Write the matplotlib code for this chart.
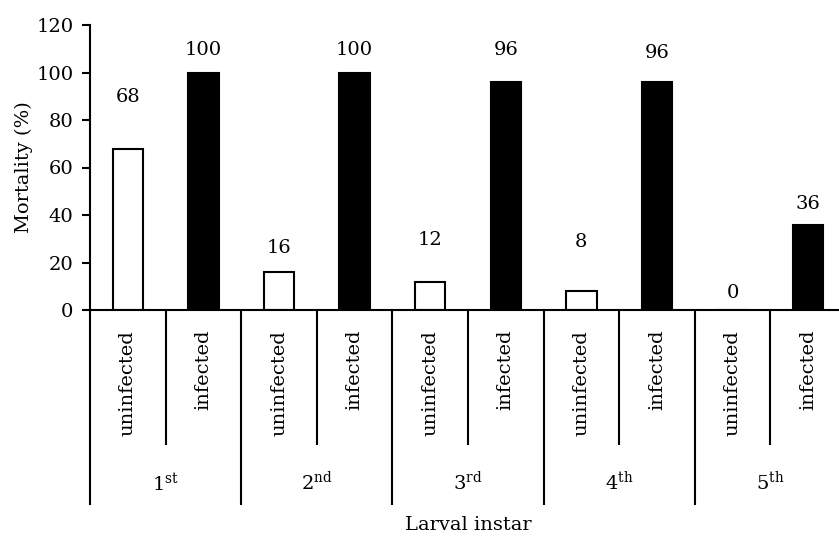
import numpy as np
import matplotlib
matplotlib.use("Agg")
import matplotlib.pyplot as plt
from matplotlib.transforms import blended_transform_factory

plt.rcParams['font.family'] = ['DejaVu Serif']
plt.rcParams['mathtext.fontset'] = 'custom'
plt.rcParams['mathtext.rm'] = 'DejaVu Serif'
plt.rcParams['mathtext.it'] = 'DejaVu Serif:italic'

# data
instars = ['1$^{\\mathrm{st}}$', '2$^{\\mathrm{nd}}$', '3$^{\\mathrm{rd}}$',
           '4$^{\\mathrm{th}}$', '5$^{\\mathrm{th}}$']
groups = ['uninfected', 'infected']
uninfected = [68, 16, 12, 8, 0]
infected = [100, 100, 96, 96, 36]

# label centre offsets above bar tops (points), as placed in the original
offset_uninf = [37, 17, 30, 35, 12]
offset_inf = [16, 16, 23, 21, 15]

fs = 14
fig = plt.figure(figsize=(8.39, 5.41), dpi=100)
ax = fig.add_axes([90 / 839, (541 - 310) / 541, 756 / 839, 285 / 541])

n = len(instars)
x_un = np.arange(n) * 2 + 0.5
x_in = np.arange(n) * 2 + 1.5
lw = 1.5

ax.bar(x_un, uninfected, width=0.4, color='white', edgecolor='black', linewidth=lw)
ax.bar(x_in, infected, width=0.4, color='black', edgecolor='black', linewidth=lw)

for xs, vals, offs in [(x_un, uninfected, offset_uninf), (x_in, infected, offset_inf)]:
    for xi, v, o in zip(xs, vals, offs):
        ax.annotate(str(v), (xi, v), xytext=(0, o), textcoords='offset points',
                    ha='center', va='center', fontsize=fs)

ax.set_xlim(0, 2 * n)
ax.set_ylim(0, 120)
ax.set_yticks(range(0, 121, 20))
ax.set_xticks([])
ax.tick_params(axis='y', direction='out', length=6, width=lw, labelsize=fs, pad=6)
for s in ['top', 'right']:
    ax.spines[s].set_visible(False)
ax.spines['left'].set_linewidth(lw)
ax.spines['bottom'].set_linewidth(lw)
ax.set_ylabel('Mortality (%)', fontsize=fs, labelpad=2)

# category axis below
tr = blended_transform_factory(ax.transData, ax.transAxes)
ax.vlines(np.arange(n) * 2 + 1, -0.474, 0, transform=tr, color='black',
          linewidth=lw, clip_on=False)
ax.vlines(np.arange(n + 1) * 2, -0.684, 0, transform=tr, color='black',
          linewidth=lw, clip_on=False)

for i in range(n):
    for xi, g in zip([x_un[i], x_in[i]], groups):
        ax.text(xi, -0.07, g, rotation=90, ha='center', va='top',
                fontsize=fs, transform=tr)
    ax.text(2 * i + 1, -0.632, instars[i], ha='center', va='baseline',
            fontsize=fs, transform=tr)

ax.text(0.5, -0.754, 'Larval instar', ha='center', va='center',
        fontsize=fs, transform=ax.transAxes)

fig.savefig('out.png', dpi=100)
